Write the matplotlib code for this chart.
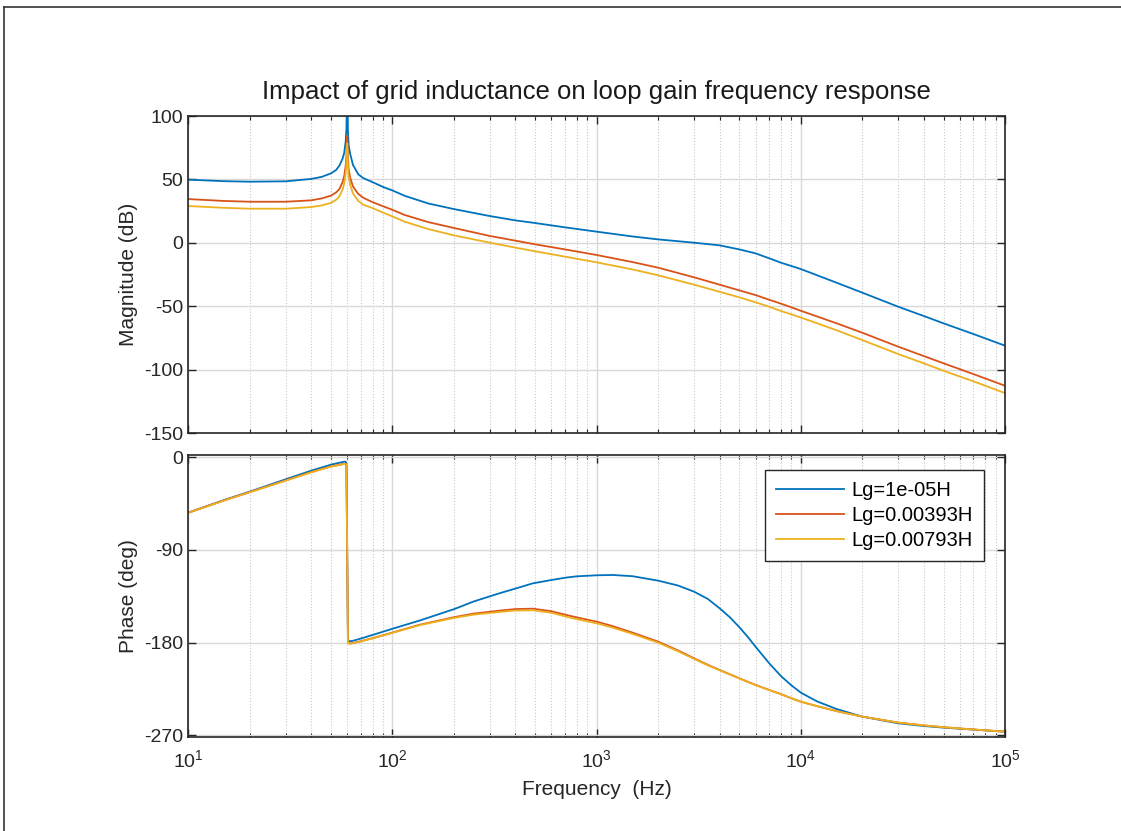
import matplotlib
matplotlib.use("Agg")
import matplotlib.pyplot as plt
from matplotlib.lines import Line2D
from matplotlib.ticker import LogLocator, NullFormatter, LogFormatterMathtext

plt.rcParams["font.family"] = ["Liberation Sans", "DejaVu Sans"]
plt.rcParams["mathtext.default"] = "regular"
plt.rcParams["axes.unicode_minus"] = False

# values
labels = ["Lg=1e-05H", "Lg=0.00393H", "Lg=0.00793H"]
colors = ["#0072BD", "#D95319", "#EDB120"]

mag_freq = [10, 15, 20, 30, 40, 45, 50, 53, 55, 57, 58, 59, 59.5, 60, 60.5,
            61, 62, 64, 68, 72, 79, 90, 100, 115, 150, 200, 300, 400, 500,
            700, 1000, 1500, 2000, 3000, 4000, 5000, 6000, 7000, 8000, 9000,
            10000, 15000, 20000, 30000, 40000, 50000, 70000, 100000]
mag_blue = [49.8, 48.6, 48.2, 48.5, 50.4, 52.0, 54.8, 57.5, 61.0, 66.5, 71.0,
            80.0, 90.0, 130.0, 88.0, 77.0, 70.5, 61.5, 54.0, 51.0, 48.2, 44.0,
            41.3, 37.0, 31.0, 26.6, 21.1, 17.7, 15.6, 12.2, 8.8, 5.0, 2.7, 0.1,
            -2.0, -5.2, -8.3, -12.2, -15.7, -18.3, -20.7, -31.5, -39.3, -50.4,
            -57.7, -63.5, -71.9, -81.1]
mag_red = [34.5, 33.0, 32.4, 32.4, 33.5, 35.0, 37.2, 39.8, 42.5, 48.0, 52.5,
           61.0, 69.0, 84.5, 67.0, 58.0, 51.5, 44.5, 38.5, 35.5, 32.4, 28.8,
           26.0, 21.9, 16.3, 11.7, 5.4, 1.7, -1.2, -5.2, -9.6, -15.2, -19.6,
           -27.2, -33.0, -37.5, -41.2, -44.9, -48.0, -50.9, -53.6, -63.5,
           -70.9, -81.9, -89.3, -95.0, -103.5, -112.7]
mag_yellow = [29.0, 27.6, 26.9, 26.9, 28.2, 29.5, 31.5, 34.0, 36.8, 42.2, 46.8,
              55.0, 63.0, 78.5, 61.0, 52.5, 46.0, 39.0, 33.0, 30.0, 27.7, 23.8,
              20.8, 16.6, 10.8, 5.9, 0.1, -3.8, -6.7, -10.9, -15.4, -21.0,
              -25.6, -33.0, -38.6, -43.0, -46.9, -50.4, -53.8, -56.4, -58.9,
              -69.0, -76.7, -87.7, -95.0, -100.9, -109.2, -118.5]

phase_freq = [10, 15, 20, 30, 40, 50, 55, 58, 59, 59.5, 60.5, 61, 62, 64, 70,
              80, 100, 136, 200, 250, 335, 400, 487, 600, 710, 800, 1000, 1200,
              1500, 2000, 2500, 3000, 3500, 4000, 4500, 5000, 5500, 6000, 7000,
              8000, 9000, 10000, 12000, 15000, 20000, 30000, 40000, 50000,
              70000, 100000]
phase_blue = [-53.8, -41.5, -33.4, -21.4, -13.0, -7.2, -5.3, -4.3, -4.4, -6.5,
              -176.5, -178.4, -178.6, -178.2, -176.0, -172.5, -166.5, -158.5,
              -147.5, -140.0, -132.0, -127.5, -122.4, -119.2, -116.8, -115.6,
              -114.6, -114.3, -115.5, -119.8, -124.5, -130.5, -137.5, -146.6,
              -155.5, -165.0, -174.5, -183.9, -200.0, -212.5, -221.5, -228.5,
              -237.0, -244.5, -251.8, -258.3, -260.9, -262.5, -264.4, -266.4]
phase_red = [-53.8, -41.8, -33.8, -22.5, -14.4, -8.9, -7.3, -6.3, -6.4, -8.3,
             -178.3, -180.6, -180.8, -180.4, -178.6, -175.6, -170.2, -162.6,
             -155.3, -151.8, -148.9, -147.4, -147.0, -149.5, -153.1, -155.5,
             -159.6, -164.0, -170.3, -179.0, -187.5, -195.2, -201.5, -206.5,
             -210.8, -214.6, -218.0, -221.0, -225.9, -230.0, -234.0, -237.3,
             -241.6, -246.5, -251.8, -257.6, -260.3, -262.1, -264.3, -266.4]
phase_yellow = [-54.0, -42.0, -34.0, -22.7, -14.6, -9.1, -7.5, -6.5, -6.6,
                -8.5, -178.5, -180.8, -181.0, -180.6, -178.8, -175.8, -170.5,
                -163.0, -156.0, -152.8, -150.2, -148.8, -148.6, -151.0, -154.8,
                -157.3, -161.2, -165.5, -171.5, -180.0, -188.3, -195.8, -202.0,
                -206.8, -211.0, -214.8, -218.2, -221.2, -226.0, -230.0, -234.0,
                -237.3, -241.6, -246.5, -251.8, -257.6, -260.3, -262.1, -264.3,
                -266.4]

mags = [mag_blue, mag_red, mag_yellow]
phases = [phase_blue, phase_red, phase_yellow]

edge = "#262626"
fig = plt.figure(figsize=(11.21, 8.31), dpi=100)
ax_mag = fig.add_axes([0.168, 0.4789, 0.7285, 0.3815])
ax_ph = fig.add_axes([0.168, 0.1131, 0.7285, 0.3394], sharex=ax_mag)

for mag, ph, lab, col in zip(mags, phases, labels, colors):
    ax_mag.plot(mag_freq, mag, color=col, lw=1.3, label=lab)
    ax_ph.plot(phase_freq, ph, color=col, lw=1.3, label=lab)

for ax in (ax_mag, ax_ph):
    ax.set_xscale("log")
    ax.set_xlim(10, 1e5)
    ax.xaxis.set_major_locator(LogLocator(base=10))
    ax.xaxis.set_minor_locator(LogLocator(base=10, subs=range(2, 10)))
    ax.xaxis.set_minor_formatter(NullFormatter())
    ax.grid(True, which="major", color="#d9d9d9", lw=1.0, ls="-")
    ax.grid(True, which="minor", axis="x", color="#c8c8c8", lw=0.8, ls=":")
    ax.set_axisbelow(True)
    ax.tick_params(which="both", direction="in", top=True, right=True,
                   colors=edge, labelsize=14)
    ax.tick_params(which="major", length=6, width=1.0)
    ax.tick_params(which="minor", length=3, width=0.8)
    ax.tick_params(axis="x", which="major", pad=9)
    for sp in ax.spines.values():
        sp.set_color(edge)
        sp.set_linewidth(1.2)

ax_mag.set_ylim(-150, 100)
ax_mag.set_yticks([-150, -100, -50, 0, 50, 100])
ax_mag.tick_params(axis="x", labelbottom=False)
ax_mag.set_ylabel("Magnitude (dB)", fontsize=15, color=edge)
ax_mag.set_title("Impact of grid inductance on loop gain frequency response",
                 fontsize=18.5, color="#1a1a1a", pad=12)

ax_ph.set_ylim(-271.6, 2.2)
ax_ph.set_yticks([-270, -180, -90, 0])
ax_ph.xaxis.set_major_formatter(LogFormatterMathtext())
ax_ph.set_ylabel("Phase (deg)", fontsize=15, color=edge)
ax_ph.set_xlabel("Frequency  (Hz)", fontsize=15, color=edge, labelpad=6)

ax_mag.yaxis.set_label_coords(-0.062, 0.5)
ax_ph.yaxis.set_label_coords(-0.062, 0.5)

leg = ax_ph.legend(loc="upper right", bbox_to_anchor=(0.974, 0.947),
                   borderaxespad=0, fontsize=14.5, handlelength=3.4,
                   labelspacing=0.3, fancybox=False, framealpha=1,
                   borderpad=0.55, handletextpad=0.35)
leg.get_frame().set_edgecolor(edge)
leg.get_frame().set_linewidth(1.0)

# thin frame at the top and left edge of the picture
fig.add_artist(Line2D([0.0036, 1.0], [0.991, 0.991], color="#333333", lw=1.2,
                      transform=fig.transFigure))
fig.add_artist(Line2D([0.0036, 0.0036], [0.0, 0.991], color="#333333", lw=1.2,
                      transform=fig.transFigure))

fig.savefig("out.png", dpi=100, facecolor="white")
